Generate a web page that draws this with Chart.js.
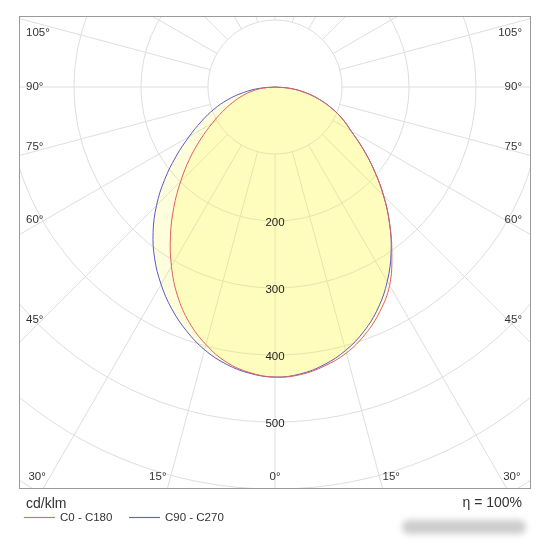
<!DOCTYPE html>
<html>
<head>
<meta charset="utf-8">
<script src="https://cdn.jsdelivr.net/npm/chart.js@4/dist/chart.umd.min.js"></script>
<style>
html,body{margin:0;padding:0;background:#fff;}
#wrap{position:relative;width:550px;height:550px;}
canvas{display:block;}
#wm{position:absolute;left:402px;top:520px;width:124px;height:14px;background:#c4c4c4;border-radius:7px;filter:blur(3px);opacity:.85;}
</style>
</head>
<body>
<div id="wrap"><canvas id="c" width="550" height="550"></canvas><div id="wm"></div></div>
<script>
// gamma angles (deg from nadir) and luminous intensity values, cd/klm
const gammaAngles = [0,5,10,15,20,25,30,35,40,45,50,55,60,65,70,75,80,85,90];
const c0Values   = [433,431,423,411,393,370,342,304,266,229,193,160,131,110,88,66,44,22,0];
const c180Values = [433,428,417,398,374,344,309,272,235,199,166,135,108,86,67,50,34,17,0];
const c90Values  = [433,430,421,407,388,364,335,302,266,229,193,160,131,110,88,66,44,22,0];
const c270Values = [433,429,420,406,387,365,340,313,283,250,215,180,148,121,97,73,48,24,0];

const ringValues = [100,200,300,400,500,600,700];
const ringLabelValues = [200,300,400,500];
const spokeAngles = [0,15,30,45,60,75,90,105,120,135,150,165,180,195,210,225,240,255,270,285,300,315,330,345];
const sideAngleValues = [105,90,75,60,45];
const sideAngleLabels = ['105°','90°','75°','60°','45°'];
const bottomAngleValues = [-30,-15,0,15,30];
const bottomAngleLabels = ['30°','15°','0°','15°','30°'];
const unitLabel = 'cd/klm';
const efficiencyLabel = 'η = 100%';
const seriesNames = ['C0 - C180','C90 - C270'];
const lineColors = ['#e06060','#5a5ac8'];
const legendColors = ['#e86868','#6464d4'];

const FONT = '"Liberation Sans", Arial, sans-serif';
const rad = d => d * Math.PI / 180;

function curve(leftVals, rightVals) {
  const pts = [];
  for (let i = gammaAngles.length - 1; i >= 0; i--) {
    const t = rad(gammaAngles[i]);
    pts.push({x: -leftVals[i] * Math.sin(t), y: -leftVals[i] * Math.cos(t)});
  }
  for (let i = 1; i < gammaAngles.length; i++) {
    const t = rad(gammaAngles[i]);
    pts.push({x: rightVals[i] * Math.sin(t), y: -rightVals[i] * Math.cos(t)});
  }
  return pts;
}

const polarGrid = {
  id: 'polarGrid',
  beforeDraw(chart) {
    const {ctx, chartArea: a, scales: {x, y}} = chart;
    const cx = x.getPixelForValue(0), cy = y.getPixelForValue(0);
    const rp = v => x.getPixelForValue(v) - cx;
    ctx.save();
    ctx.fillStyle = '#fff';
    ctx.fillRect(0, 0, chart.width, chart.height);
    ctx.beginPath();
    ctx.rect(a.left, a.top, a.right - a.left, a.bottom - a.top);
    ctx.clip();
    ctx.strokeStyle = '#dedede';
    ctx.lineWidth = 1;
    ringValues.forEach(v => {
      ctx.beginPath();
      ctx.arc(cx, cy, rp(v), 0, Math.PI * 2);
      ctx.stroke();
    });
    const r0 = rp(ringValues[0]), r1 = rp(2000);
    spokeAngles.forEach(d => {
      const s = Math.sin(rad(d)), c = Math.cos(rad(d));
      ctx.beginPath();
      ctx.moveTo(cx + r0 * s, cy + r0 * c);
      ctx.lineTo(cx + r1 * s, cy + r1 * c);
      ctx.stroke();
    });
    ctx.restore();
  },
  afterDatasetsDraw(chart) {
    const {ctx, chartArea: a, scales: {x, y}} = chart;
    const cx = x.getPixelForValue(0), cy = y.getPixelForValue(0);
    ctx.save();
    ctx.fillStyle = '#222';
    ctx.font = '11.5px ' + FONT;
    ctx.textAlign = 'center';
    ctx.textBaseline = 'middle';
    ringLabelValues.forEach(v => {
      ctx.fillText(String(v), cx, y.getPixelForValue(-v) + 2);
    });
    ctx.fillStyle = '#333';
    sideAngleValues.forEach((d, i) => {
      const dx = cx - (a.left + 20);
      let ly = cy + dx * Math.cos(rad(d)) / Math.sin(rad(d));
      if (d < 90) ly -= 3;
      ly = Math.max(a.top + 17, ly);
      ctx.textAlign = 'left';
      ctx.fillText(sideAngleLabels[i], a.left + 7, ly);
      ctx.textAlign = 'right';
      ctx.fillText(sideAngleLabels[i], a.right - 9, ly);
    });
    const by = a.bottom - 12;
    bottomAngleValues.forEach((d, i) => {
      const lx = cx + (by - cy) * Math.tan(rad(d));
      if (d < 0) { ctx.textAlign = 'right'; ctx.fillText(bottomAngleLabels[i], lx - 4, by); }
      else if (d > 0) { ctx.textAlign = 'left'; ctx.fillText(bottomAngleLabels[i], lx + 3, by); }
      else { ctx.textAlign = 'center'; ctx.fillText(bottomAngleLabels[i], lx, by); }
    });
    ctx.strokeStyle = '#9a9a9a';
    ctx.lineWidth = 1;
    ctx.strokeRect(a.left + 0.5, a.top + 0.5, a.right - a.left - 1, a.bottom - a.top - 1);
    ctx.fillStyle = '#333';
    ctx.font = '14px ' + FONT;
    ctx.textAlign = 'left';
    ctx.fillText(unitLabel, a.left + 7, a.bottom + 15);
    ctx.textAlign = 'right';
    ctx.fillText(efficiencyLabel, a.right - 9, a.bottom + 14);
    const ly = a.bottom + 28.5;
    const items = [{x0: a.left + 5, x1: a.left + 36, tx: a.left + 41}, {x0: a.left + 110, x1: a.left + 141, tx: a.left + 146}];
    ctx.font = '11.5px ' + FONT;
    items.forEach((it, i) => {
      ctx.strokeStyle = legendColors[i];
      ctx.lineWidth = 1.2;
      ctx.beginPath();
      ctx.moveTo(it.x0, ly); ctx.lineTo(it.x1, ly); ctx.stroke();
      ctx.fillStyle = '#333';
      ctx.textAlign = 'left';
      ctx.fillText(seriesNames[i], it.tx, ly);
    });
    ctx.restore();
  }
};

new Chart(document.getElementById('c'), {
  type: 'scatter',
  data: {
    datasets: [
      {label: seriesNames[0], data: curve(c180Values, c0Values), showLine: true, pointRadius: 0, tension: 0.4,
       borderColor: lineColors[0], borderWidth: 1, backgroundColor: 'rgba(255,250,40,0.16)', fill: 'shape'},
      {label: seriesNames[1], data: curve(c270Values, c90Values), showLine: true, pointRadius: 0, tension: 0.4,
       borderColor: lineColors[1], borderWidth: 1, backgroundColor: 'rgba(255,250,40,0.16)', fill: 'shape'}
    ]
  },
  options: {
    responsive: false,
    animation: false,
    layout: {padding: {left: 19, top: 16, right: 19, bottom: 61}},
    scales: {
      x: {type: 'linear', min: -382, max: 382, display: false},
      y: {type: 'linear', min: -600, max: 106, display: false}
    },
    plugins: {
      legend: {display: false},
      tooltip: {enabled: false},
      filler: {drawTime: 'beforeDatasetsDraw'}
    }
  },
  plugins: [polarGrid]
});
</script>
</body>
</html>
